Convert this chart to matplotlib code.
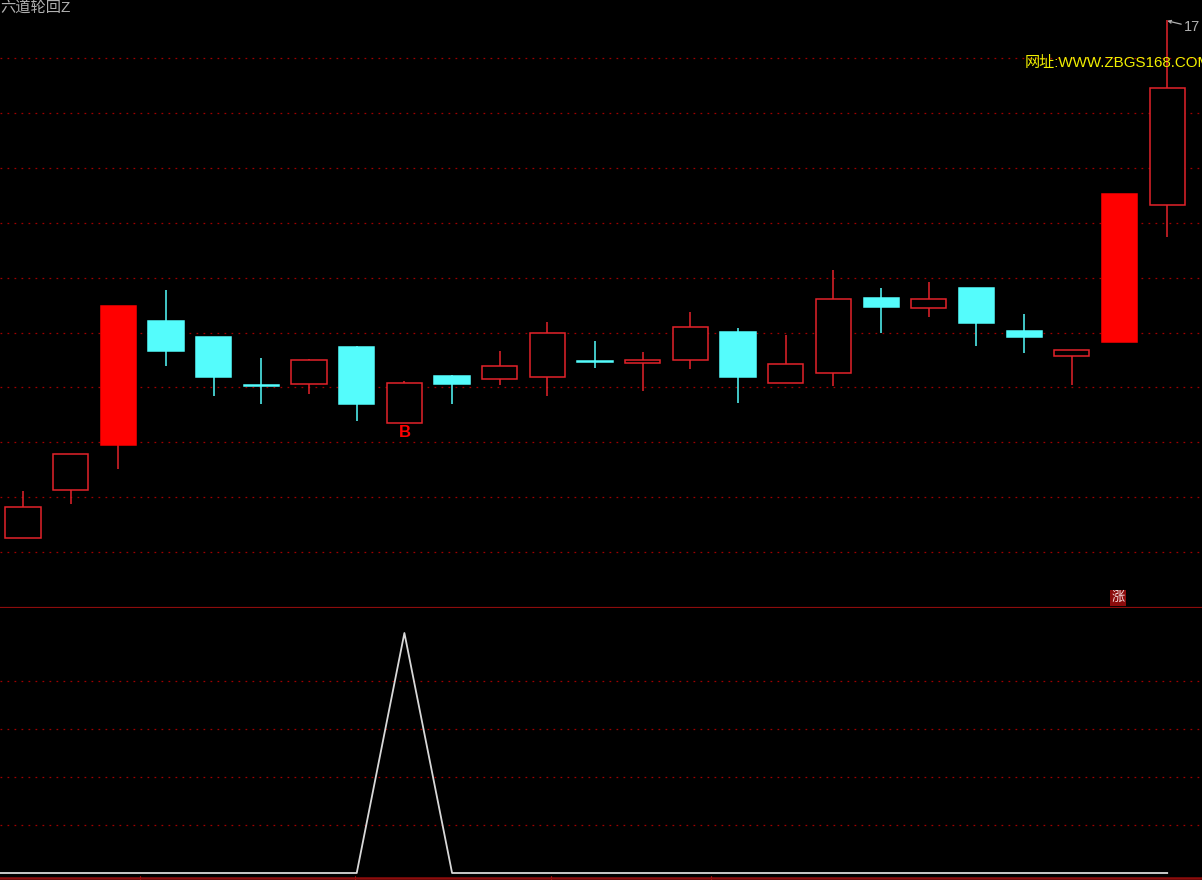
import numpy as np
import matplotlib
matplotlib.use('Agg')
import matplotlib.pyplot as plt

plt.rcParams['font.family'] = ['Liberation Sans', 'Noto Sans CJK SC', 'DejaVu Sans']

# candles (height above the panel divider)
opens = [69, 117, 162, 286, 270, 222, 223, 260, 184, 231, 228, 230, 246,
         244, 247, 275, 224, 234, 309, 299, 319, 276, 251, 265, 402]
closes = [100, 153, 301, 256, 230, 221, 247, 203, 224, 223, 241, 274, 245,
          247, 280, 230, 243, 308, 300, 308, 284, 270, 257, 413, 519]
highs = [116, 153, 301, 317, 270, 249, 248, 261, 226, 232, 256, 285, 266,
         255, 295, 279, 272, 337, 319, 325, 319, 293, 257, 413, 587]
lows = [69, 103, 138, 241, 211, 203, 213, 186, 184, 203, 222, 211, 239,
        216, 238, 204, 224, 221, 274, 290, 261, 254, 222, 265, 370]
solid_up = [2, 23]

# signal in the lower panel
signal = [0, 0, 0, 0, 0, 0, 0, 0, 1, 0, 0, 0, 0,
          0, 0, 0, 0, 0, 0, 0, 0, 0, 0, 0, 0]

price_grid = [55, 110, 165, 220, 274, 329, 384, 439, 494, 549]
signal_grid = [0.2, 0.4, 0.6, 0.8]
date_marks = [2.45, 6.96, 11.08, 14.43]

title = '六道轮回Z'
site = '网址:WWW.ZBGS168.COM'
high_label = '17'
buy_label = 'B'
rise_label = '涨'

RED = '#e4222a'
SOLID = '#ff0000'
CYAN = '#54fcfc'
GRID = '#a00000'
GREY = '#b0b0b0'
DARKRED = '#8c0c0c'

x = np.arange(len(opens))
opens = np.array(opens)
closes = np.array(closes)
highs = np.array(highs)
lows = np.array(lows)

fig = plt.figure(figsize=(12.02, 8.8), dpi=100, facecolor='black')
split = 272.5 / 880
ax1 = fig.add_axes([0, split, 1, 1 - split])
ax2 = fig.add_axes([0, 0, 1, split])

for ax in (ax1, ax2):
    ax.set_facecolor('black')
    ax.set_xlim(-0.4825, 24.73)
    ax.tick_params(length=0, labelbottom=False, labelleft=False)
    ax.set_xticks([])
    for s in ax.spines.values():
        s.set_visible(False)
    ax.grid(axis='y', color=GRID, linewidth=0.9, linestyle=(0, (1.4, 4.2)))
    ax.set_axisbelow(True)

# upper panel
ax1.set_ylim(-0.7, 606.8)
ax1.set_yticks(price_grid)
ax1.axhline(-0.7, color=DARKRED, linewidth=1.6, clip_on=False, zorder=5)

for i in x:
    up = closes[i] >= opens[i]
    top = max(opens[i], closes[i])
    bot = min(opens[i], closes[i])
    col = RED if up else CYAN
    ax1.vlines(i, top, highs[i], color=col, linewidth=1.1)
    ax1.vlines(i, lows[i], bot, color=col, linewidth=1.1)
    if up and i not in solid_up:
        face, edge = 'black', col
    elif up:
        face, edge = SOLID, SOLID
    else:
        face, edge = col, col
    ax1.bar(i, top - bot, bottom=bot, width=0.74, facecolor=face,
            edgecolor=edge, linewidth=1.1, zorder=3)

ax1.text(0.0, 0.9985, title, transform=ax1.transAxes, color=GREY,
         fontsize=11, ha='left', va='top')
ax1.text(1025 / 1202, 544, site, transform=ax1.get_yaxis_transform(),
         color='#f0f000', fontsize=10.9, ha='left', va='center', clip_on=True)
ax1.annotate(high_label, xy=(24, highs[24] - 1), xytext=(1184 / 1202, 580),
             textcoords=ax1.get_yaxis_transform(), color=GREY, fontsize=10.5,
             ha='left', va='center',
             arrowprops=dict(arrowstyle='->', color=GREY, linewidth=0.9,
                             shrinkA=0, shrinkB=0, mutation_scale=5))
ax1.text(8, 174, buy_label, color='#ff0000', fontsize=12, fontweight='bold',
         ha='center', va='center')
ax1.text(22.97, 9, rise_label, color='#f4dcdc', fontsize=9.5, ha='center',
         va='center',
         bbox=dict(boxstyle='square,pad=0.12', facecolor=DARKRED,
                   edgecolor='none'))

# lower panel
ax2.set_ylim(-7 / 240, 265.5 / 240)
ax2.set_yticks(signal_grid)
ax2.axhline(-5 / 240, color=DARKRED, linewidth=1.8)
ax2.plot(np.r_[-0.4825, x], np.r_[signal[0], signal], color='#d8d8d8',
         linewidth=1.3)
ax2.set_xticks(date_marks)
ax2.tick_params(axis='x', direction='in', length=3, width=0.8, color='#ff2020',
                bottom=True)

fig.savefig('out.png', dpi=100, facecolor='black')
